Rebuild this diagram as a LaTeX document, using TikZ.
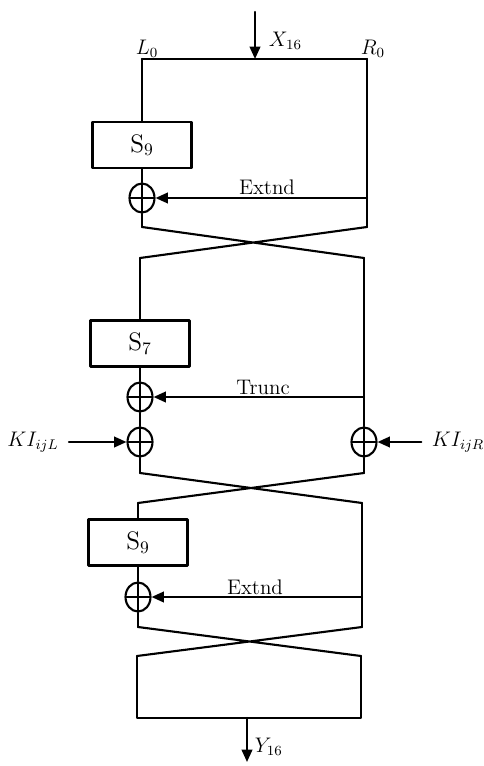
\documentclass[tikz,border=0pt]{standalone}
\usetikzlibrary{shapes.geometric,arrows.meta}
\begin{document}
\begin{tikzpicture}[x=0.02cm, y=-0.02cm, line width=1.2pt, line cap=round, line join=round,
  sbox/.style={draw, minimum width=1.98cm, minimum height=0.92cm, font=\Large},
  xorgate/.style={draw, ellipse, minimum width=0.5cm, minimum height=0.58cm, inner sep=0pt,
    path picture={\draw (path picture bounding box.north) -- (path picture bounding box.south)
      (path picture bounding box.west) -- (path picture bounding box.east);}},
  tip/.style={-{Triangle[length=7pt,width=6pt]}}]
  \useasboundingbox (0,0) rectangle (483,766);

  % input
  \coordinate (l0) at (142,59);
  \coordinate (r0) at (367,59);
  \coordinate (xin) at (255,12);
  \node (Ltxt) at (147,49) {\large $L_0$};
  \node (Rtxt) at (373,49) {\large $R_0$};
  \draw[tip] (xin) -- (xin |- l0);
  \node[right] (Xtxt) at (262,41) {\large $X_{16}$};
  \draw (l0) -- (r0);

  % first round
  \node[sbox] (s1) at (142,145) {S$_9$};
  \node[xorgate] (x1) at (142,198) {};
  \coordinate (l1) at (142,227);
  \coordinate (r1) at (367,227);
  \draw (l0) -- (s1) -- (x1) -- (l1);
  \draw (r0) -- (r1);
  \draw[tip] (x1 -| r0) -- (x1);
  \node (e1) at (267,187) {\large Extnd};

  \coordinate (l2) at (140,258);
  \coordinate (r2) at (364,258);
  \draw (l1) -- (r2) (r1) -- (l2);

  % second round
  \node[sbox] (s2) at (140,343.5) {S$_7$};
  \node[xorgate] (x2) at (140,397) {};
  \node[xorgate] (x3) at (140,442) {};
  \node[xorgate] (x4) at (364,442) {};
  \coordinate (l3) at (140,473);
  \coordinate (r3) at (364,473);
  \draw (l2) -- (s2) -- (x2) -- (x3) -- (l3);
  \draw (r2) -- (x4) -- (r3);
  \draw[tip] (x2 -| r2) -- (x2);
  \node (t1) at (263,387) {\large Trunc};
  \node (kl) at (33,442) {\large $KI_{ijL}$};
  \node (kr) at (458,442) {\large $KI_{ijR}$};
  \draw[tip, shorten <=2pt] (kl) -- (x3);
  \draw[tip, shorten <=2pt] (kr) -- (x4);

  \coordinate (l4) at (138,503);
  \coordinate (r4) at (362,503);
  \draw (l3) -- (r4) (r3) -- (l4);

  % third round
  \node[sbox] (s3) at (138,542.5) {S$_9$};
  \node[xorgate] (x5) at (138,597) {};
  \coordinate (l5) at (138,627);
  \coordinate (r5) at (362,627);
  \draw (l4) -- (s3) -- (x5) -- (l5);
  \draw (r4) -- (r5);
  \draw[tip] (x5 -| r4) -- (x5);
  \node (e2) at (255,587) {\large Extnd};

  \coordinate (l6) at (137,656);
  \coordinate (r6) at (361,656);
  \draw (l5) -- (r6) (r5) -- (l6);

  % output
  \coordinate (lb) at (137,718);
  \coordinate (rb) at (361,718);
  \coordinate (yout) at (247,762);
  \draw (l6) -- (lb) -- (rb) -- (r6);
  \draw[tip] (yout |- rb) -- (yout);
  \node[right] (Ytxt) at (248,747) {\large $Y_{16}$};
\end{tikzpicture}
\end{document}
